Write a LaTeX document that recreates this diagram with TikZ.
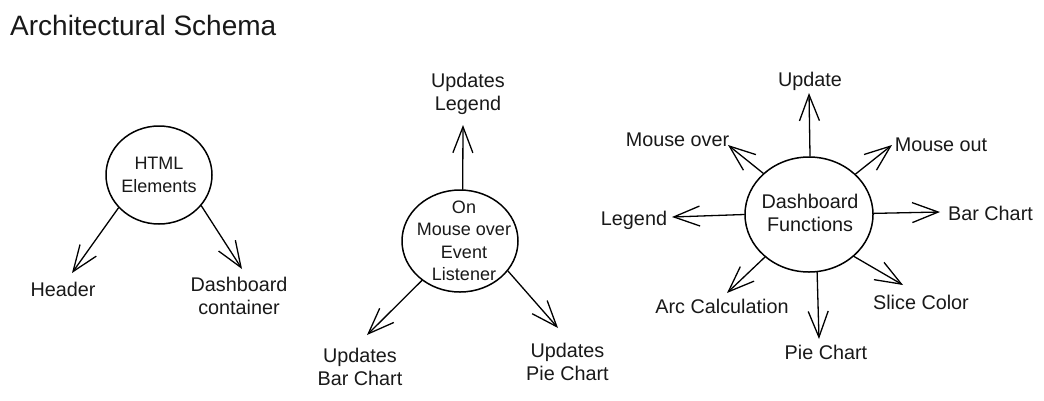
\documentclass[tikz,border=0pt]{standalone}
\usepackage{fontspec}
\setmainfont{Liberation Sans}
\usetikzlibrary{arrows.meta,shapes.geometric}
\begin{document}
\begin{tikzpicture}[x=1pt,y=-1pt,
  lbl/.style={inner sep=0pt, align=center, text=black!90, font=\fontsize{19.8}{23}\selectfont},
  inlbl/.style={inner sep=0pt, align=center, text=black!90, font=\fontsize{18}{22.5}\selectfont},
  bubble/.style={draw, ellipse, line width=1.5pt, inner sep=0pt},
  arr/.style={line width=1.3pt, line cap=round, line join=round,
    -{Straight Barb[length=26pt,width=20pt,line width=1.3pt]}},
]
\path[fill=white, use as bounding box] (0,0) rectangle (1044,400);

% title
\node[anchor=base west, inner sep=0pt, text=black!90, font=\fontsize{28}{33}\selectfont] (title) at (10,35) {Architectural Schema};

% ---------- HTML Elements ----------
\node[bubble, minimum width=106pt, minimum height=98pt] (html) at (159,175) {};
\node[inlbl] (htmltxt) at (159,175) {HTML\\Elements};
\node[lbl] (header) at (63,291.5) {\strut Header};
\node[lbl] (dash) at (239,298) {\strut Dashboard\\\strut container};
\coordinate (tHeader) at (72,273);
\coordinate (tDash) at (242,269);
\draw[arr] (html.-141) -- (tHeader);
\draw[arr] (html.-36) -- (tDash);

% ---------- On Mouse over Event Listener ----------
\node[bubble, minimum width=116pt, minimum height=102pt] (mid) at (460,241) {};
\node[inlbl] (midtxt) at (464,241) {On\\Mouse over\\Event\\Listener};
\node[lbl] (updleg) at (468,94) {\strut Updates\\\strut Legend};
\node[lbl] (updbar) at (360,369) {\strut Updates\\\strut Bar Chart};
\node[lbl] (updpie) at (567.5,364) {\strut Updates\\\strut Pie Chart};
\coordinate (tLegU) at (463,125);
\coordinate (tBar) at (367,335);
\coordinate (tPie) at (558,328);
\draw[arr] (mid.87) -- (tLegU);
\draw[arr] (mid.-134) -- (tBar);
\draw[arr] (mid.-32) -- (tPie);

% ---------- Dashboard Functions ----------
\node[bubble, minimum width=128pt, minimum height=115pt] (fun) at (809,214.5) {};
\node[lbl] (funtxt) at (810,212.5) {Dashboard\\Functions};
\node[lbl] (update) at (810,81.5) {\strut Update};
\node[lbl] (mover) at (677.5,141.5) {\strut Mouse over};
\node[lbl] (mout) at (941,146.5) {\strut Mouse out};
\node[lbl] (legend) at (634,220.5) {\strut Legend};
\node[lbl] (barc) at (990.5,215.5) {\strut Bar Chart};
\node[lbl] (arc) at (722,308.5) {\strut Arc Calculation};
\node[lbl] (piec) at (826,354.5) {\strut Pie Chart};
\node[lbl] (slice) at (921,304.5) {\strut Slice Color};
\coordinate (tUpd) at (809,93);
\coordinate (tMOver) at (728,145);
\coordinate (tMOut) at (892,145);
\coordinate (tLeg) at (672,217);
\coordinate (tBarC) at (940,212);
\coordinate (tArc) at (727,293);
\coordinate (tPieC) at (819,339);
\coordinate (tSlice) at (903,285);
\draw[arr] (fun.89) -- (tUpd);
\draw[arr] (fun.138) -- (tMOver);
\draw[arr] (fun.41) -- (tMOut);
\draw[arr] (fun.180) -- (tLeg);
\draw[arr] (fun.1) -- (tBarC);
\draw[arr] (fun.-136) -- (tArc);
\draw[arr] (fun.-82) -- (tPieC);
\draw[arr] (fun.-43) -- (tSlice);
\end{tikzpicture}
\end{document}
